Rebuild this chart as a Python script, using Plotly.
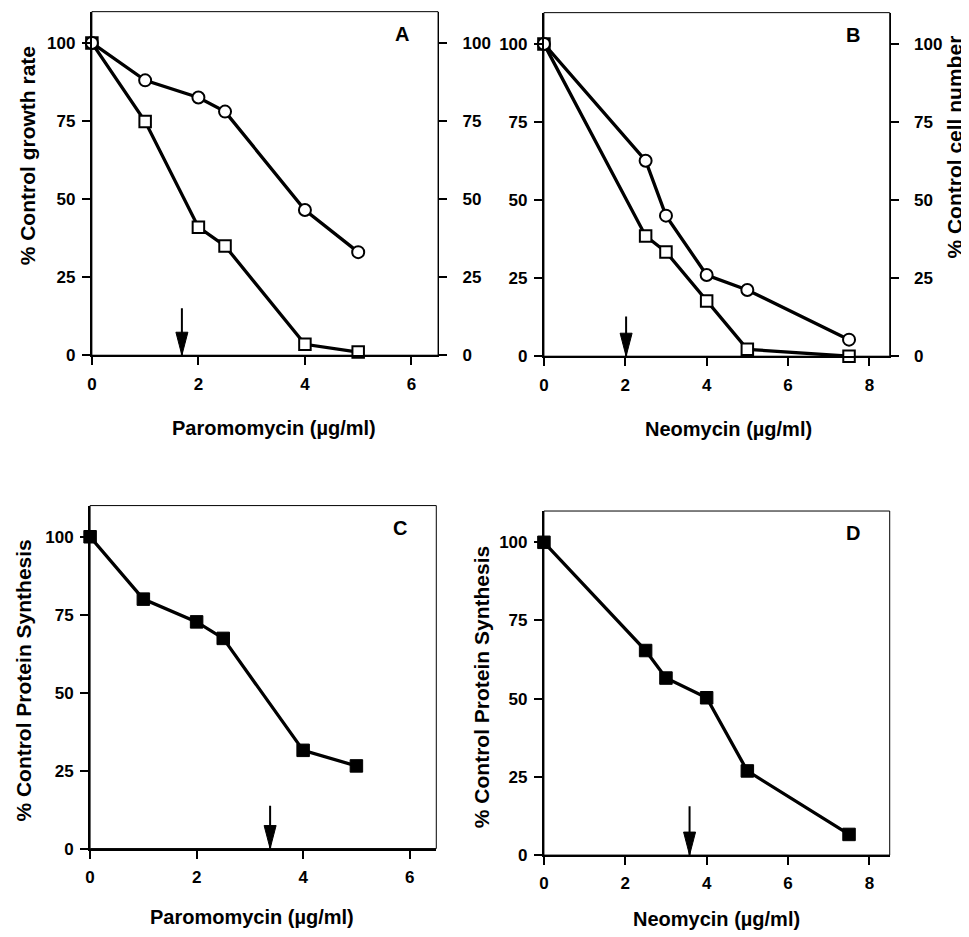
import plotly.graph_objects as go

# ---------------- data ----------------
para_x = [0, 1, 2, 2.5, 4, 5]
para_growth_circle = [100, 88, 82.5, 78, 46.5, 33]
para_cells_square = [100, 74.8, 41, 35, 3.5, 1]

neo_x = [0, 2.5, 3, 4, 5, 7.5]
neo_growth_circle = [100, 62.6, 45, 26, 21.2, 5.3]
neo_cells_square = [100, 38.5, 33.4, 17.7, 2.2, 0]

para_protein = [100, 80, 72.7, 67.4, 31.5, 26.5]
neo_protein = [100, 65.4, 56.6, 50.3, 26.9, 6.6]

arrow_x = {"A": 1.69, "B": 2.02, "C": 3.38, "D": 3.58}
arrow_top = {"A": 15, "B": 12.7, "C": 13.7, "D": 15.6}

y_ticks = [0, 25, 50, 75, 100]
para_ticks = [0, 2, 4, 6]
neo_ticks = [0, 2, 4, 6, 8]

# ---------------- layout helpers ----------------
# the page body has an 8px default margin, so the figure is 8px smaller and offset
OFF = 8
W, H = 969 - OFF, 937 - OFF
FONT = "Liberation Sans, Arial, Helvetica, sans-serif"


def fx(px):
    return (px - OFF) / W


def fy(py):
    return 1 - (py - OFF) / H


def dx(a, b):
    return [fx(a), fx(b)]


def dy(top, bottom):
    return [fy(bottom), fy(top)]


fig = go.Figure()

line_style = dict(color="black", width=3.3)
open_circle = dict(symbol="circle", size=12, color="white", line=dict(color="black", width=2))
open_square = dict(symbol="square", size=11.5, color="white", line=dict(color="black", width=2))
filled_square = dict(symbol="square", size=12.5, color="black", line=dict(color="black", width=1))

# Panel A
fig.add_trace(go.Scatter(x=para_x, y=para_cells_square, mode="lines+markers", line=line_style,
                         marker=open_square, xaxis="x", yaxis="y", cliponaxis=False, showlegend=False))
fig.add_trace(go.Scatter(x=para_x, y=para_growth_circle, mode="lines+markers", line=line_style,
                         marker=open_circle, xaxis="x", yaxis="y5", cliponaxis=False, showlegend=False))
# Panel B
fig.add_trace(go.Scatter(x=neo_x, y=neo_cells_square, mode="lines+markers", line=line_style,
                         marker=open_square, xaxis="x2", yaxis="y2", cliponaxis=False, showlegend=False))
fig.add_trace(go.Scatter(x=neo_x, y=neo_growth_circle, mode="lines+markers", line=line_style,
                         marker=open_circle, xaxis="x2", yaxis="y6", cliponaxis=False, showlegend=False))
# Panel C
fig.add_trace(go.Scatter(x=para_x, y=para_protein, mode="lines+markers", line=line_style,
                         marker=filled_square, xaxis="x3", yaxis="y3", cliponaxis=False, showlegend=False))
# Panel D
fig.add_trace(go.Scatter(x=neo_x, y=neo_protein, mode="lines+markers", line=line_style,
                         marker=filled_square, xaxis="x4", yaxis="y4", cliponaxis=False, showlegend=False))

tickfont = dict(family=FONT, size=17, color="black", weight="bold")


def xax(domain, anchor, rng, ticks):
    return dict(domain=domain, anchor=anchor, range=rng, tickvals=ticks, ticks="outside",
                ticklen=8, tickwidth=1.5, tickcolor="black", showline=True, linewidth=2,
                linecolor="black", showgrid=False, zeroline=False, tickfont=tickfont,
                ticklabelstandoff=4)


def yax(domain, anchor, side="left", overlaying=None, lw=2, standoff=3):
    d = dict(domain=domain, anchor=anchor, range=[0, 110], tickvals=y_ticks, ticks="outside",
             ticklen=8, tickwidth=1.5, tickcolor="black", showline=True, linewidth=lw,
             linecolor="black", showgrid=False, zeroline=False, tickfont=tickfont, side=side,
             ticklabelstandoff=standoff)
    if overlaying:
        d["overlaying"] = overlaying
    return d


dA = (dx(87.3, 435.3), dy(11.7, 359))
dB = (dx(541.7, 889.3), dy(12.7, 360))
dC = (dx(85.5, 433.5), dy(511, 857.7))
dD = (dx(541.7, 889.3), dy(516.5, 864.3))

fig.update_layout(
    width=W, height=H, autosize=False,
    margin=dict(l=0, r=0, t=0, b=0),
    paper_bgcolor="white", plot_bgcolor="white",
    xaxis=xax(dA[0], "y", [0, 6.5], para_ticks),
    yaxis=yax(dA[1], "x"),
    yaxis5=yax(dA[1], "x", side="right", overlaying="y", lw=1, standoff=12),
    xaxis2=xax(dB[0], "y2", [0, 8.5], neo_ticks),
    yaxis2=yax(dB[1], "x2"),
    yaxis6=yax(dB[1], "x2", side="right", overlaying="y2", lw=1, standoff=12),
    xaxis3=xax(dC[0], "y3", [0, 6.5], para_ticks),
    yaxis3=yax(dC[1], "x3"),
    xaxis4=xax(dD[0], "y4", [0, 8.5], neo_ticks),
    yaxis4=yax(dD[1], "x4"),
)

shapes = []
# thin frames
for xr, yr in [("x", "y"), ("x2", "y2"), ("x3", "y3"), ("x4", "y4")]:
    shapes.append(dict(type="rect", xref=f"{xr} domain", yref=f"{yr} domain", x0=0, x1=1, y0=0, y1=1,
                       line=dict(color="black", width=1), layer="below"))

# arrows
for key, (xr, yr) in {"A": ("x", "y"), "B": ("x2", "y2"), "C": ("x3", "y3"), "D": ("x4", "y4")}.items():
    shapes.append(dict(type="line", xref=xr, yref=yr, x0=arrow_x[key], x1=arrow_x[key],
                       y0=arrow_top[key], y1=0, line=dict(color="black", width=2)))
    shapes.append(dict(type="path", xref=xr, yref=yr, xsizemode="pixel", ysizemode="pixel",
                       xanchor=arrow_x[key], yanchor=0, path="M -6 23 L 6 23 L 0 0 Z",
                       fillcolor="black", line=dict(color="black", width=1)))
fig.update_layout(shapes=shapes)

annotations = []
# panel letters
for letter, xr, yr in [("A", "x", "y"), ("B", "x2", "y2"), ("C", "x3", "y3"), ("D", "x4", "y4")]:
    annotations.append(dict(text=letter, xref=f"{xr} domain", yref=f"{yr} domain", x=0.895, y=0.935,
                            showarrow=False, xanchor="center", yanchor="middle",
                            font=dict(family=FONT, size=20, color="black", weight="bold")))

x_title_font = dict(family=FONT, size=20, color="black", weight="bold")
y_title_font = dict(family=FONT, size=21, color="black", weight="bold")
# x titles
for txt, px, py in [("Paromomycin (\u00b5g/ml)", 270, 433), ("Neomycin (\u00b5g/ml)", 727, 434),
                    ("Paromomycin (\u00b5g/ml)", 248, 927), ("Neomycin (\u00b5g/ml)", 715, 929)]:
    annotations.append(dict(text=txt, xref="paper", yref="paper", x=fx(px), y=fy(py),
                            showarrow=False, xanchor="center", yanchor="middle", font=x_title_font))
# y titles
for txt, px, py in [("% Control growth rate", 22, 157), ("% Control cell number", 954, 149),
                    ("% Control Protein Synthesis", 19, 688), ("% Control Protein Synthesis", 479, 695)]:
    annotations.append(dict(text=txt, xref="paper", yref="paper", x=fx(px), y=fy(py),
                            showarrow=False, xanchor="center", yanchor="middle", textangle=-90,
                            font=y_title_font))
fig.update_layout(annotations=annotations)

fig.write_html("out.html")
